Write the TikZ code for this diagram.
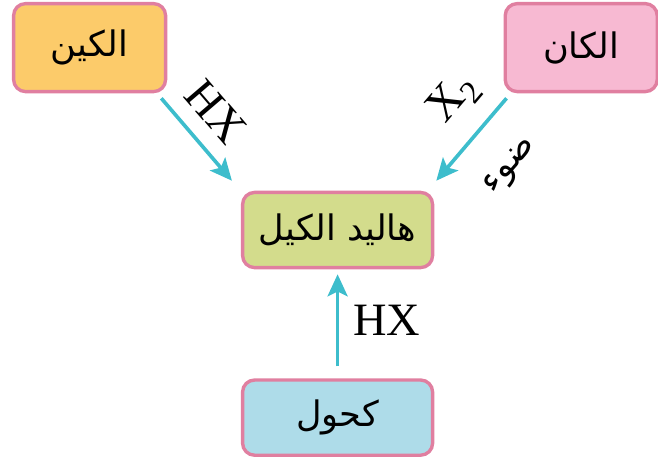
\documentclass[tikz,border=0pt]{standalone}
\usepackage{fontspec}
\setmainfont{Liberation Serif}
\newfontfamily\arabicfont[Script=Arabic]{DejaVu Sans}
\TeXXeTstate=1
\usepackage{tikz}
\usepackage{xcolor}
\definecolor{boxpink}{HTML}{E07FA0}
\definecolor{alkynefill}{HTML}{FCCB6A}
\definecolor{alkanefill}{HTML}{F7B9D2}
\definecolor{halidefill}{HTML}{D3DC8C}
\definecolor{alcoholfill}{HTML}{AEDCE9}
\definecolor{arrowteal}{HTML}{3DBDCC}
\usetikzlibrary{arrows.meta}
\tikzstyle{arrow} = [line width=2.6pt, draw=arrowteal, -{Stealth[length=0.55cm, width=0.5cm, inset=0.12cm]}]

\begin{document}
\begin{tikzpicture}
        \tikzstyle{every node}=[font=\fontsize{33}{36}\selectfont]
        \tikzstyle{compound} = [rectangle, rounded corners=0.3cm, draw=boxpink, line width=2.4pt, minimum width=3.8cm, minimum height=2.2cm, inner sep=2pt, font=\fontsize{25}{28}\selectfont\arabicfont]
        \tikzstyle{product} = [compound, minimum width=4.75cm, minimum height=1.88cm]
        \tikzstyle{reagent} = [draw=none, inner sep=2pt]

        \useasboundingbox (0,0) rectangle (16.45,-11.625);

        \node[compound, fill=alkynefill](alkyne) at (2.24,-1.19) {\beginR الكين\endR};
        \node[compound, fill=alkanefill](alkane) at (14.53,-1.19) {\beginR الكان\endR};
        \node[product, fill=halidefill](halide) at (8.44,-5.75) {\beginR هاليد الكيل\endR};
        \node[product, fill=alcoholfill](alcohol) at (8.44,-10.44) {\beginR كحول\endR};

        % alkyne + HX
        \draw[arrow] ([shift={(-0.15,-0.125)}]alkyne.south east) -- ([shift={(-0.225,0.25)}]halide.north west)
            node[reagent, pos=0.42, sloped, above=9pt] {HX};

        % alkane + X2, light
        \draw[arrow] ([shift={(0.075,-0.125)}]alkane.south west) -- ([shift={(0.05,0.25)}]halide.north east)
            node[reagent, pos=0.32, sloped, above=11pt] {X\textsubscript{2}}
            node[reagent, pos=0.45, sloped, below=22pt, font=\fontsize{25}{28}\selectfont\arabicfont] {\beginR ضوء\endR};

        % alcohol + HX
        \draw[arrow] ([yshift=0.3cm]alcohol.north) -- ([yshift=-0.125cm]halide.south)
            node[reagent, midway, right=8pt] {HX};
\end{tikzpicture}
\end{document}
